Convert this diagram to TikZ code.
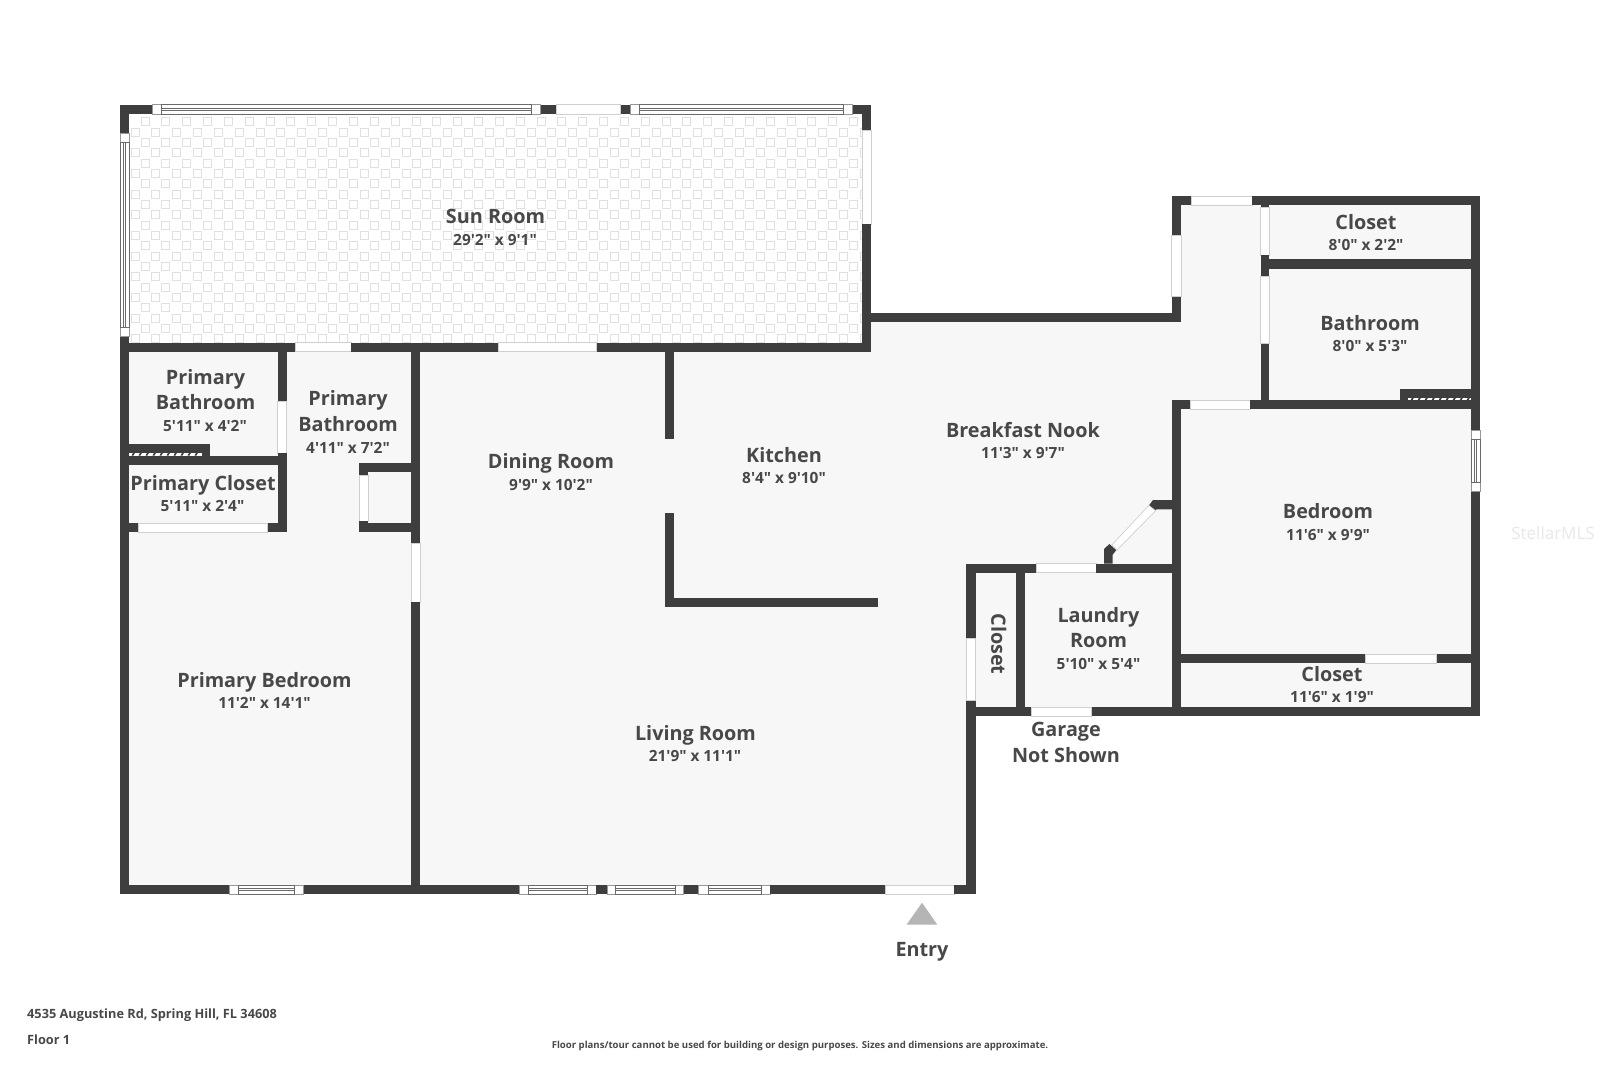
\documentclass[tikz,border=0pt]{standalone}
\usepackage{fontspec}
\setmainfont{Open Sans}[Ligatures=TeXOff]
\definecolor{wallc}{HTML}{3E3E3E}
\definecolor{floorc}{HTML}{F7F7F7}
\definecolor{textc}{HTML}{484848}
\definecolor{tilec}{HTML}{E0E0E0}
\definecolor{edgec}{HTML}{CFCFCF}
\definecolor{winc}{HTML}{6A6A6A}
\tikzset{
  wallfill/.style={fill=wallc,draw=none},
  doorgap/.style={fill=white,draw=edgec,line width=.7pt},
  pane/.style={fill=white,draw=winc,line width=.7pt},
  paneend/.style={fill=white,draw=winc!70,line width=.6pt},
  tile/.style={draw=tilec,line width=.8pt},
  roomname/.style={text=textc,font=\fontsize{19.8}{24}\selectfont\bfseries,anchor=center,inner sep=0pt,text height=16pt,text depth=1.7pt},
  roomsize/.style={text=textc,font=\fontsize{15.4}{20}\selectfont\bfseries,anchor=center,inner sep=0pt,text height=12pt,text depth=0.6pt},
  footer/.style={text=textc,font=\fontsize{12.75}{15}\selectfont\bfseries,anchor=west,inner sep=0pt,text height=9.1pt,text depth=0pt},
}
\newcommand\WL[4]{\path[wallfill] (#1,#2) rectangle (#3,#4);}
\newcommand\DR[4]{\path[doorgap] (#1,#2) rectangle (#3,#4);}
% horizontal window: end xa..xb, pane xb..xc, end xc..xd, between y1 and y2
\newcommand\HWIN[6]{%
  \path[paneend] (#1,#5) rectangle (#2,#6);
  \path[paneend] (#3,#5) rectangle (#4,#6);
  \path[pane] (#2,#5) rectangle (#3,#6);
  \path[pane] (#2,{(#5+#6)/2-1}) rectangle (#3,{(#5+#6)/2+1});}
\newcommand\VWIN[6]{%
  \path[paneend] (#5,#1) rectangle (#6,#2);
  \path[paneend] (#5,#3) rectangle (#6,#4);
  \path[pane] (#5,#2) rectangle (#6,#3);
  \path[pane] ({(#5+#6)/2-1},#2) rectangle ({(#5+#6)/2+1},#3);}
\begin{document}
\begin{tikzpicture}[x=1pt,y=-1pt]
\useasboundingbox (0,0) rectangle (1600,1066);
\fill[white] (0,0) rectangle (1600,1066);
% floor
\fill[floorc] (124,347) -- (867,347) -- (867,317) -- (1176,317) -- (1176,200) -- (1476,200) -- (1476,712)
  -- (971,712) -- (971,890) -- (124,890) -- cycle;
% sun room tiles
\begin{scope}
\clip (129.3,114) rectangle (862.3,342.7);
\foreach \j in {0,...,21}{
  \foreach \i in {0,...,36}{
    \pgfmathsetmacro\cx{125+20.84*\i+(mod(\j,2)==0?20:10)}
    \pgfmathsetmacro\cy{121.7+10.34*\j}
    \draw[tile] (\cx-4,\cy-4) rectangle (\cx+4,\cy+4);
  }}
\end{scope}
% sun room walls
\WL{120}{104.7}{152}{114}
\WL{540.7}{104.7}{556}{114}
\WL{620.7}{104.7}{630}{114}
\WL{852.7}{104.7}{871.3}{114}
\DR{556}{104.7}{620.7}{114}
\HWIN{152}{161.5}{531.7}{540.7}{104.7}{114}
\HWIN{630}{639.3}{843.3}{852.7}{104.7}{114}
\WL{120}{104.7}{129.3}{133.3}
\VWIN{133.3}{142.7}{327.3}{336.7}{120}{129.3}
\WL{120}{336.7}{129.3}{894.3}
\WL{862.3}{104.7}{871.3}{130}
\DR{862.3}{130}{871.3}{224.3}
\WL{862.3}{224.3}{871.3}{351.7}
\WL{120}{342.7}{295.7}{351.7}
\DR{295.7}{342.7}{351}{351.7}
\WL{351}{342.7}{498}{351.7}
\DR{498}{342.7}{596.7}{351.7}
\WL{596.7}{342.7}{871.3}{351.7}
% link wall sun room to rear hall
\WL{871.3}{312.7}{1181}{321.7}
\WL{1171.7}{196}{1181}{235.7}
\DR{1171.7}{235.7}{1181}{296.7}
\WL{1171.7}{296.7}{1181}{321.7}
% rear top wall
\WL{1171.7}{196}{1191.3}{205.3}
\DR{1191.3}{196}{1252.3}{205.3}
\WL{1252.3}{196}{1480.3}{205.3}
% closet / bath wall column
\WL{1260.7}{196}{1269.3}{207.3}
\DR{1260.7}{207.3}{1269.3}{255.3}
\WL{1260.7}{255.3}{1269.3}{276}
\DR{1260.7}{276}{1269.3}{343.7}
\WL{1260.7}{343.7}{1269.3}{409.3}
\WL{1260.7}{259.3}{1480.3}{268.7}
% bath bottom
\WL{1171.7}{400.3}{1190.3}{409.3}
\DR{1190.3}{400.3}{1250.3}{409.3}
\WL{1250.3}{400.3}{1480.3}{409.3}
\WL{1399.7}{388.7}{1480.3}{400.3}
\fill[white] (1408.3,397.6) rectangle (1471,400.3);
\foreach \k in {0,...,8}{\fill[wallc] (1412+7*\k,397.6) -- (1414+7*\k,397.6) -- (1412.5+7*\k,400.3) -- (1410.5+7*\k,400.3) -- cycle;}
% right wall
\WL{1471}{196}{1480.3}{430}
\VWIN{430}{439.3}{482.3}{491.7}{1471}{1480.3}
\WL{1471}{491.7}{1480.3}{716}
% bedroom left wall
\WL{1171.8}{400.3}{1181.4}{716}
% bedroom / closet wall
\WL{1181.4}{654}{1365}{663.3}
\DR{1365}{654}{1436.6}{663.3}
\WL{1436.6}{654}{1471.3}{663.3}
% laundry walls
\WL{966.2}{563.7}{1036.4}{572.7}
\DR{1036.4}{563.7}{1096.4}{572.7}
\WL{1096.4}{563.7}{1181.4}{572.7}
\WL{1016.1}{563.7}{1025.4}{716}
\WL{966.2}{563.7}{975.8}{638.3}
\DR{966.2}{638.3}{975.8}{700.7}
\WL{966.2}{700.7}{975.8}{894.3}
\WL{966.2}{707}{1031.3}{716}
\DR{1031.3}{707}{1091.5}{716}
\WL{1091.5}{707}{1480.3}{716}
% angled door
\fill[wallc] (1104,563.7) -- (1104,549) -- (1109.4,544) -- (1116.3,550) -- (1112.5,555) -- (1112.5,563.7) -- cycle;
\fill[wallc] (1148,506.7) -- (1153,500) -- (1171.8,500) -- (1171.8,509.3) -- (1156.6,509.3) -- (1153.2,512.3) -- cycle;
\draw[doorgap] (1111.8,545) -- (1117,550) -- (1155.6,510.7) -- (1148.8,505.4) -- cycle;
% primary suite
\WL{277.7}{351.7}{286.7}{401}
\DR{277.7}{401}{286.7}{453.3}
\WL{277.7}{453.3}{286.7}{532.3}
\WL{120}{455.7}{286.7}{465}
\WL{120}{443.7}{210.3}{465}
\fill[white] (129.3,452.8) rectangle (201.7,455.6);
\foreach \k in {0,...,9}{\fill[wallc] (133+7*\k,452.8) -- (135+7*\k,452.8) -- (133.5+7*\k,455.6) -- (131.5+7*\k,455.6) -- cycle;}
\WL{120}{523}{138.7}{532.3}
\DR{138.7}{523}{267.7}{532.3}
\WL{267.7}{523}{286.7}{532.3}
% wall bedroom / dining
\WL{411}{351.7}{420}{543.3}
\DR{411}{543.3}{420}{602}
\WL{411}{602}{420}{894.3}
% small closet
\WL{359.3}{462.7}{411}{472}
\WL{359.3}{462.7}{368.3}{475}
\DR{359.3}{475}{368.3}{521}
\WL{359.3}{521}{368.3}{532.3}
\WL{359.3}{523}{411}{532.3}
% kitchen walls
\WL{665}{351.7}{674.3}{438.7}
\WL{665}{513}{674.3}{607.3}
\WL{665}{598}{877.7}{607.3}
% bottom wall
\WL{120}{885}{229}{894.3}
\HWIN{229}{238.3}{294.4}{303.6}{885}{894.3}
\WL{303.6}{885}{519.4}{894.3}
\HWIN{519.4}{528.6}{587}{596}{885}{894.3}
\WL{596}{885}{607}{894.3}
\HWIN{607}{615.8}{675}{683.7}{885}{894.3}
\WL{683.7}{885}{698.5}{894.3}
\HWIN{698.5}{708}{761}{770}{885}{894.3}
\WL{770}{885}{885}{894.3}
\DR{885}{885}{954}{894.3}
\WL{954}{885}{975.8}{894.3}
% entry marker
\fill[black!29] (922,902.7) -- (937.3,924.7) -- (906.6,924.7) -- cycle;
% labels
\node[roomname] (sunn) at (495.5,216.5) {Sun Room};
\node[roomsize] (suns) at (495,239.5) {29'2" x 9'1"};
\node[roomname] (pba) at (205.5,377.5) {Primary};
\node[roomname] (pbb) at (205.5,402.5) {Bathroom};
\node[roomsize] (pbs) at (205,425.5) {5'11" x 4'2"};
\node[roomname] (pca) at (348,398.5) {Primary};
\node[roomname] (pcb) at (348,424) {Bathroom};
\node[roomsize] (pcs) at (348,447.5) {4'11" x 7'2"};
\node[roomname] (pcl) at (203,483) {Primary Closet};
\node[roomsize] (pcls) at (202.5,505.5) {5'11" x 2'4"};
\node[roomname] (din) at (551,461) {Dining Room};
\node[roomsize] (dins) at (551,484.5) {9'9" x 10'2"};
\node[roomname] (kit) at (784,455) {Kitchen};
\node[roomsize] (kits) at (784,478) {8'4" x 9'10"};
\node[roomname] (nook) at (1023,430) {Breakfast Nook};
\node[roomsize] (nooks) at (1023,453) {11'3" x 9'7"};
\node[roomname] (bed) at (1328,511) {Bedroom};
\node[roomsize] (beds) at (1328,534.5) {11'6" x 9'9"};
\node[roomname] (cl) at (1366,222) {Closet};
\node[roomsize] (cls) at (1366,244.5) {8'0" x 2'2"};
\node[roomname] (bath) at (1370,323) {Bathroom};
\node[roomsize] (baths) at (1370,346) {8'0" x 5'3"};
\node[roomname] (clb) at (1332,674) {Closet};
\node[roomsize] (clbs) at (1332,697) {11'6" x 1'9"};
\node[roomname] (lau) at (1098.5,615) {Laundry};
\node[roomname] (lab) at (1098.5,640.5) {Room};
\node[roomsize] (laus) at (1098.5,663.5) {5'10" x 5'4"};
\node[roomname,rotate=-90] (clr) at (998.5,644) {Closet};
\node[roomname] (gar) at (1066,729.5) {Garage};
\node[roomname] (not) at (1066,755) {Not Shown};
\node[roomname] (liv) at (695.5,733) {Living Room};
\node[roomsize] (livs) at (695,755.5) {21'9" x 11'1"};
\node[roomname] (pbr) at (264.5,680) {Primary Bedroom};
\node[roomsize] (pbrs) at (264.5,703) {11'2" x 14'1"};
\node[roomname] (ent) at (922,949) {Entry};
\node[footer] (addr) at (27,1013.5) {4535 Augustine Rd, Spring Hill, FL 34608};
\node[footer] (flr) at (27,1040) {Floor 1};
\node[text=textc,font=\fontsize{9.6}{12}\selectfont\bfseries,inner sep=0pt] (disc) at (800,1045.5) {Floor plans/tour cannot be used for building or design purposes. Sizes and dimensions are approximate.};
\node[text=black!9,font=\fontsize{17}{20}\selectfont,inner sep=0pt] (wm) at (1553,533) {StellarMLS};
\end{tikzpicture}
\end{document}
